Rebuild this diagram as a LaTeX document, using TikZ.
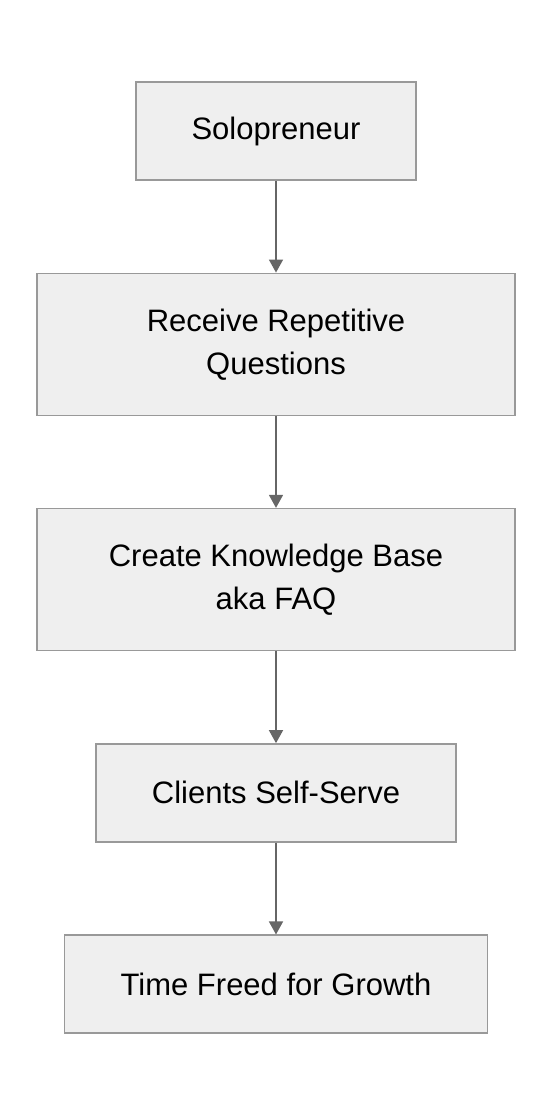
\documentclass[tikz,border=0pt]{standalone}
\usepackage{fontspec}
\setmainfont{Liberation Sans}
\usetikzlibrary{positioning,arrows.meta}
\definecolor{boxfill}{HTML}{EFEFEF}
\definecolor{boxline}{HTML}{999999}
\definecolor{arrline}{HTML}{666666}
\begin{document}
\begin{tikzpicture}[x=1pt,y=1pt,
  etape/.style={draw=boxline,fill=boxfill,line width=1.5pt,align=center,
    font=\fontsize{31}{43}\selectfont,inner sep=0pt},
  fleche/.style={draw=arrline,line width=1.5pt,-{Triangle[width=14pt,length=13pt]}},
  node distance=91.8pt]

\useasboundingbox (0,0) rectangle (552,-1116);

% Boites
\node[etape,minimum width=280pt,minimum height=98pt] (solo) at (276,-131) {Solopreneur};
\node[etape,minimum width=478pt,minimum height=142pt,below=of solo] (questions) {Receive Repetitive\\Questions};
\node[etape,minimum width=478pt,minimum height=142pt,below=of questions] (faq) {Create Knowledge Base\\aka FAQ};
\node[etape,minimum width=360pt,minimum height=98pt,below=of faq] (self) {Clients Self-Serve};
\node[etape,minimum width=423pt,minimum height=98pt,below=of self] (temps) {Time Freed for Growth};

% Fleches
\draw[fleche] (solo) -- (questions);
\draw[fleche] (questions) -- (faq);
\draw[fleche] (faq) -- (self);
\draw[fleche] (self) -- (temps);
\end{tikzpicture}
\end{document}
